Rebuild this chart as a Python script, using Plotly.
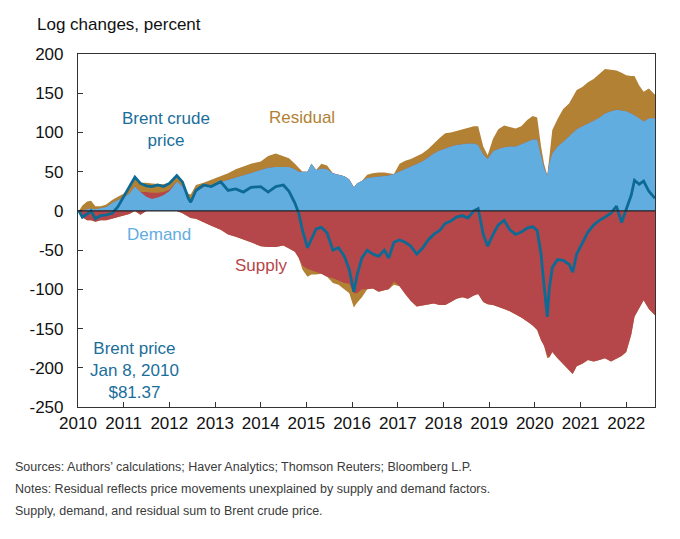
import numpy as np
import plotly.graph_objects as go

# ---- data (log changes since Jan 8, 2010, percent) ----
dates = [
    "2010-01-08", "2010-02-05", "2010-03-15", "2010-04-15", "2010-05-20", "2010-07-01",
    "2010-08-15", "2010-10-01", "2010-11-15", "2011-01-01", "2011-02-15", "2011-04-01",
    "2011-05-15", "2011-07-01", "2011-08-15", "2011-10-01", "2011-11-15", "2012-01-01",
    "2012-03-01", "2012-04-15", "2012-06-01", "2012-06-20", "2012-08-01", "2012-10-01",
    "2012-12-01", "2013-02-15", "2013-04-15", "2013-06-15", "2013-08-15", "2013-10-15",
    "2014-01-01", "2014-03-01", "2014-05-01", "2014-07-01", "2014-08-15", "2014-10-01",
    "2014-11-01", "2014-12-01", "2015-01-10", "2015-02-10", "2015-03-20", "2015-05-01",
    "2015-06-15", "2015-08-01", "2015-09-15", "2015-11-01", "2015-12-10", "2016-01-15",
    "2016-02-10", "2016-03-20", "2016-05-01", "2016-06-15", "2016-08-01", "2016-09-15",
    "2016-10-20", "2016-12-01", "2017-01-15", "2017-03-01", "2017-04-15", "2017-06-01",
    "2017-07-15", "2017-09-01", "2017-10-15", "2017-12-01", "2018-01-15", "2018-03-01",
    "2018-04-15", "2018-06-01", "2018-07-15", "2018-09-01", "2018-10-05", "2018-11-15",
    "2018-12-20", "2019-02-01", "2019-03-15", "2019-05-01", "2019-06-15", "2019-08-01",
    "2019-09-15", "2019-11-01", "2019-12-15", "2020-01-20", "2020-02-20", "2020-03-15",
    "2020-04-10", "2020-04-25", "2020-05-20", "2020-07-01", "2020-08-15", "2020-10-01",
    "2020-10-30", "2020-12-01", "2021-01-15", "2021-03-01", "2021-04-15", "2021-06-01",
    "2021-07-15", "2021-09-01", "2021-10-15", "2021-11-25", "2022-01-01", "2022-02-10",
    "2022-03-08", "2022-04-15", "2022-05-20", "2022-07-01", "2022-08-19",
]
demand = [
    0, 1, 2, 3, 2, 3,
    5, 10, 14, 17, 22, 31,
    24, 18, 15, 17, 20, 25,
    37, 31, 15, 14, 26, 30,
    33, 37, 40, 43, 46, 49,
    52, 55, 56, 56, 56, 53,
    50, 50, 50, 60, 52, 54,
    53, 48, 46, 44, 40, 30,
    35, 38, 42, 43, 44, 45,
    45, 47, 50, 54, 57, 60,
    63, 68, 73, 77, 80, 82,
    84, 85, 86, 86, 84, 72,
    66, 76, 79, 81, 82, 82,
    85, 88, 91, 91, 72, 55,
    45, 60, 73, 82, 88, 95,
    100, 104, 108, 112, 115, 119,
    124, 127, 129, 128, 127, 124,
    122, 118, 114, 118, 118,
]
supply = [
    0, -8, -12, -12, -14, -12,
    -12, -10, -8, -6, -4, 0,
    -5, 6, 8, 6, 4, 2,
    0, -3, -8, -9, -10, -15,
    -19, -24, -30, -33, -37, -40,
    -45, -46, -46, -44, -48, -52,
    -60, -70, -74, -76, -78, -80,
    -84, -86, -89, -92, -93, -105,
    -105, -100, -100, -99, -103, -101,
    -100, -90, -96, -106, -115, -122,
    -121, -119, -118, -120, -120, -116,
    -112, -110, -112, -108, -106, -116,
    -119, -120, -122, -125, -128, -132,
    -136, -141, -146, -152, -165, -172,
    -185, -187, -180, -188, -195, -203,
    -208, -198, -195, -190, -192, -190,
    -188, -192, -188, -185, -180, -158,
    -135, -125, -114, -125, -133,
]
residual = [
    0, 6, 10, 10, 4, 3,
    3, 4, 4, 5, 8, 12,
    12, 12, 12, 11, 10, 9,
    8, 6, 7, 7, 7, 6,
    7, 7, 8, 10, 11, 11,
    11, 15, 17, 14, 11, 7,
    5, -5, -10, -5, -3, 6,
    5, -6, -5, -8, -12, -18,
    -12, -10, 4, 5, 5, 4,
    3, -4, 10, 10, 9, 10,
    10, 11, 13, 16, 19, 18,
    18, 19, 19, 22, 24, 10,
    5, 16, 25, 28, 25, 23,
    23, 28, 30, 28, 10, 5,
    -3, 10, 30, 35, 42, 42,
    45, 50, 50, 52, 53, 56,
    57, 53, 50, 48, 46, 48,
    50, 42, 38, 38, 30,
]
brent = [
    0, -8, -4, 0, -10, -6,
    -5, -3, 5, 18, 30, 43,
    35, 32, 31, 33, 31, 35,
    45, 37, 16, 11, 26, 33,
    31, 37, 26, 28, 24, 30,
    31, 24, 31, 33, 25, 10,
    -3, -25, -47, -36, -23, -21,
    -28, -50, -47, -58, -75, -103,
    -82, -60, -50, -55, -58, -50,
    -60, -40, -37, -40, -45, -55,
    -48, -37, -30, -25, -16, -13,
    -8, -6, -9, 0, 3, -30,
    -45, -30, -18, -12, -24, -30,
    -27, -22, -20, -25, -55, -95,
    -135, -100, -72, -62, -63, -68,
    -78, -55, -40, -27, -18, -12,
    -8, -3, 6, -15, 2, 20,
    39, 34, 38, 25, 16,
]

y_ticks = [200, 150, 100, 50, 0, -50, -100, -150, -200, -250]
x_years = list(range(2010, 2023))

# ---- stacking (positive parts above zero, negative parts below) ----
d = np.array(demand, float)
s = np.array(supply, float)
r = np.array(residual, float)
pos_blue = np.maximum(d, 0)
pos_red = pos_blue + np.maximum(s, 0)
pos_gold = pos_red + np.maximum(r, 0)
neg_red = np.minimum(s, 0) + np.minimum(d, 0)
neg_gold = neg_red + np.minimum(r, 0)

GOLD = "#B38134"
RED = "#B5474A"
BLUE = "#62ADDF"
LINE = "#0C6A95"
FONT = "Liberation Sans, Arial, Helvetica, sans-serif"

fig = go.Figure()

def area(y, color):
    fig.add_trace(go.Scatter(x=dates, y=y, mode="lines", fill="tozeroy",
                             fillcolor=color, line=dict(width=0, color=color),
                             hoverinfo="skip", showlegend=False))

area(pos_gold, GOLD)
area(pos_red, RED)
area(pos_blue, BLUE)
area(neg_gold, GOLD)
area(neg_red, RED)

fig.add_shape(type="line", xref="paper", x0=0, x1=1, yref="y", y0=0, y1=0,
              line=dict(color="#222222", width=1.2))

fig.add_trace(go.Scatter(x=dates, y=brent, mode="lines",
                         line=dict(color=LINE, width=2.8),
                         showlegend=False))

fig.update_layout(
    width=680, height=539,
    margin=dict(l=78, r=25, t=54, b=132),
    paper_bgcolor="white", plot_bgcolor="white",
    font=dict(family=FONT, size=17, color="#111111"),
    showlegend=False,
)
fig.update_xaxes(
    range=["2010-01-01", "2022-08-19"],
    tickvals=[f"{y}-01-01" for y in x_years],
    ticktext=[str(y) for y in x_years],
    ticks="inside", ticklen=5, tickcolor="#333333",
    showline=True, linecolor="#333333", linewidth=1.2, mirror=True,
    showgrid=False, zeroline=False,
    tickfont=dict(size=17, color="#111111"),
)
fig.update_yaxes(
    range=[-250, 200],
    tickvals=y_ticks,
    ticktext=[str(v) for v in y_ticks],
    ticks="inside", ticklen=5, tickcolor="#333333",
    showline=True, linecolor="#333333", linewidth=1.2, mirror=True,
    showgrid=False, zeroline=False,
    tickfont=dict(size=17, color="#111111"),
    ticklabelstandoff=10,
)

ann = [
    dict(text="Log changes, percent", x=-0.075, y=1.0 + 30 / 353, xref="paper", yref="paper",
         xanchor="left", yanchor="middle", font=dict(size=17, color="#111111")),
    dict(text="Brent crude<br>price", x="2011-12-05", y=104, font=dict(size=17, color="#1A6E9A")),
    dict(text="Residual", x="2014-11-25", y=119, font=dict(size=17, color=GOLD)),
    dict(text="Demand", x="2011-10-10", y=-30, font=dict(size=17, color=BLUE)),
    dict(text="Supply", x="2014-01-05", y=-69, font=dict(size=17, color=RED)),
    dict(text="Brent price<br>Jan 8, 2010<br>$81.37", x="2011-03-25", y=-203,
         font=dict(size=17, color="#1A6E9A")),
]
for a in ann:
    a.setdefault("xref", "x")
    a.setdefault("yref", "y")
    a.setdefault("xanchor", "center")
    a.setdefault("yanchor", "middle")
    a["showarrow"] = False
    fig.add_annotation(**a)

notes = [
    "Sources: Authors’ calculations; Haver Analytics; Thomson Reuters; Bloomberg L.P.",
    "Notes: Residual reflects price movements unexplained by supply and demand factors.",
    "Supply, demand, and residual sum to Brent crude price.",
]
for i, t in enumerate(notes):
    ypix = 467 + 22 * i
    fig.add_annotation(text=t, xref="paper", yref="paper",
                       x=(13 - 78) / 577, y=(407 - ypix) / 353,
                       xanchor="left", yanchor="middle", showarrow=False,
                       font=dict(family=FONT, size=12.5, color="#3a3a3a"))

fig.write_html("out.html",
               config={"displayModeBar": False},
               post_script="document.body.style.margin='0px';document.body.style.padding='0px';")
